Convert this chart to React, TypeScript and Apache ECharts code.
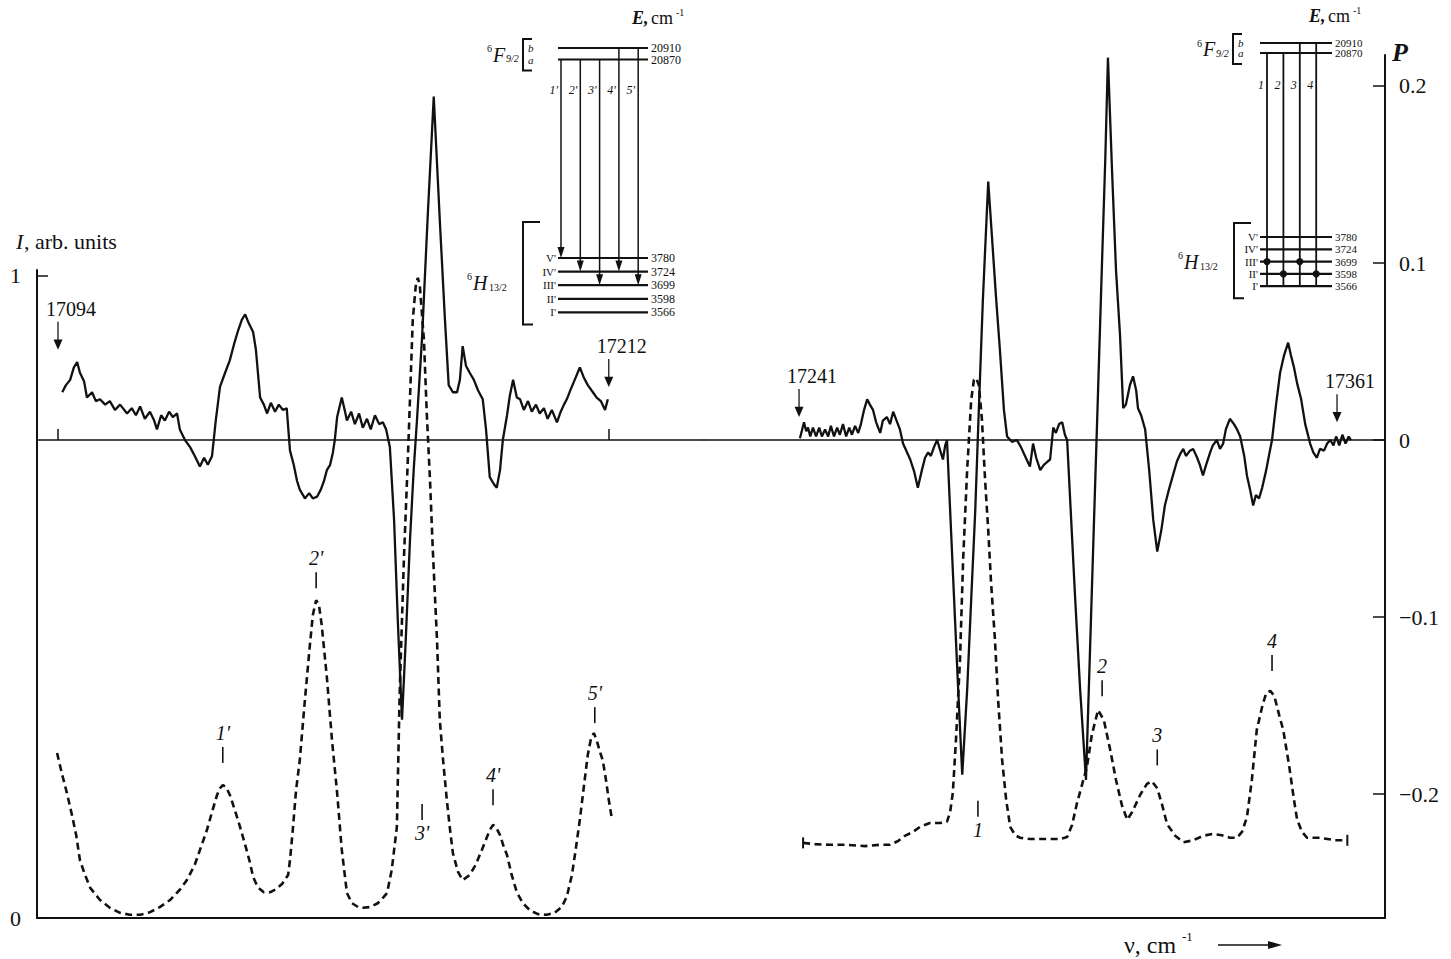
import React, { useEffect, useRef } from "react";
import * as echarts from "echarts";

const FONT = '"Liberation Serif", "Times New Roman", serif';

// wavenumber (cm^-1) vs polarization P, left window
const leftPolarization: number[][] = [
  [17094.9,0.027],[17095.7,0.031],[17096.6,0.034],[17097.4,0.041],[17098.1,0.044],[17098.7,0.038],[17099.6,0.033],[17100.2,0.024],[17101.3,0.027],[17102.1,0.022],[17103.0,0.023],[17104.1,0.020],[17105.1,0.022],[17106.2,0.017],[17107.3,0.020],[17108.8,0.015],[17109.8,0.018],[17110.7,0.014],[17111.6,0.019],[17112.6,0.012],[17113.7,0.016],[17114.6,0.011],[17115.2,0.006],[17116.1,0.014],[17116.9,0.011],[17117.8,0.016],[17118.6,0.013],[17119.5,0.015],[17120.1,0.006],[17121.2,0.000],[17122.3,-0.004],[17123.3,-0.009],[17124.4,-0.015],[17125.3,-0.010],[17126.1,-0.014],[17127.0,-0.009],[17127.8,0.011],[17128.7,0.030],[17129.8,0.038],[17130.8,0.045],[17131.7,0.054],[17132.6,0.062],[17133.4,0.068],[17134.1,0.071],[17134.7,0.067],[17135.8,0.061],[17136.4,0.051],[17137.3,0.024],[17138.1,0.020],[17138.8,0.015],[17139.6,0.021],[17140.5,0.016],[17141.3,0.020],[17142.2,0.017],[17143.0,0.018],[17143.7,-0.006],[17144.5,-0.014],[17145.2,-0.023],[17145.8,-0.028],[17146.9,-0.033],[17147.8,-0.030],[17148.6,-0.033],[17149.5,-0.032],[17150.3,-0.028],[17151.0,-0.023],[17151.6,-0.017],[17152.3,-0.014],[17152.9,-0.007],[17153.3,0.000],[17153.8,0.013],[17154.8,0.024],[17155.5,0.016],[17155.9,0.011],[17156.8,0.016],[17157.6,0.009],[17158.5,0.015],[17159.3,0.007],[17160.2,0.012],[17161.0,0.006],[17161.9,0.014],[17162.8,0.009],[17163.6,0.010],[17164.3,0.006],[17165.1,-0.004],[17166.0,-0.045],[17166.8,-0.102],[17167.7,-0.158],[17168.5,-0.113],[17169.4,-0.057],[17170.2,-0.017],[17170.9,0.011],[17172.0,0.058],[17173.2,0.126],[17174.5,0.194],[17175.8,0.124],[17176.9,0.068],[17177.7,0.031],[17178.6,0.027],[17179.5,0.027],[17180.1,0.034],[17180.7,0.053],[17181.4,0.042],[17182.2,0.038],[17183.1,0.034],[17184.0,0.028],[17185.0,0.023],[17185.7,0.006],[17186.5,-0.021],[17187.4,-0.025],[17188.0,-0.027],[17188.7,-0.017],[17189.3,0.000],[17190.2,0.014],[17190.8,0.025],[17191.5,0.034],[17192.3,0.024],[17193.0,0.023],[17193.8,0.017],[17194.7,0.022],[17195.5,0.016],[17196.4,0.020],[17197.2,0.015],[17198.1,0.018],[17198.9,0.012],[17199.8,0.017],[17200.9,0.010],[17201.7,0.016],[17202.4,0.020],[17203.0,0.023],[17203.9,0.029],[17204.7,0.034],[17205.8,0.041],[17206.7,0.035],[17207.5,0.031],[17208.6,0.027],[17209.4,0.024],[17210.3,0.022],[17211.2,0.017],[17211.8,0.023]
];

// wavenumber vs intensity I (arb. units), left window
const leftIntensity: number[][] = [
  [17093.8,0.257],[17094.9,0.223],[17095.9,0.195],[17097.0,0.160],[17097.9,0.129],[17098.7,0.090],[17099.8,0.067],[17100.9,0.047],[17103.0,0.028],[17105.1,0.016],[17107.3,0.008],[17109.4,0.005],[17111.6,0.005],[17113.7,0.009],[17115.8,0.017],[17118.0,0.028],[17120.1,0.044],[17121.6,0.059],[17123.3,0.083],[17124.8,0.114],[17125.9,0.137],[17127.0,0.165],[17128.1,0.192],[17128.7,0.202],[17129.3,0.207],[17130.0,0.204],[17130.8,0.192],[17131.9,0.168],[17133.0,0.142],[17134.1,0.114],[17135.1,0.087],[17135.8,0.064],[17136.8,0.048],[17138.1,0.040],[17139.4,0.040],[17140.7,0.045],[17142.0,0.053],[17143.3,0.067],[17143.7,0.090],[17144.3,0.137],[17145.0,0.199],[17145.8,0.246],[17146.9,0.340],[17148.0,0.428],[17148.6,0.472],[17149.3,0.495],[17149.9,0.488],[17150.5,0.456],[17151.6,0.375],[17152.7,0.277],[17153.8,0.195],[17154.8,0.106],[17155.9,0.039],[17157.0,0.023],[17158.3,0.017],[17159.3,0.016],[17160.8,0.017],[17162.5,0.023],[17163.8,0.033],[17164.5,0.039],[17165.5,0.075],[17166.6,0.142],[17167.2,0.350],[17168.1,0.558],[17169.0,0.724],[17170.0,0.931],[17170.7,0.989],[17171.1,0.997],[17171.5,0.986],[17172.4,0.900],[17173.0,0.787],[17173.7,0.682],[17174.3,0.573],[17175.2,0.433],[17175.8,0.308],[17176.5,0.246],[17177.3,0.184],[17178.0,0.137],[17178.6,0.101],[17179.7,0.072],[17180.7,0.059],[17182.2,0.067],[17183.5,0.083],[17184.8,0.106],[17185.9,0.126],[17186.5,0.137],[17187.2,0.145],[17187.8,0.142],[17188.7,0.129],[17189.5,0.111],[17190.2,0.098],[17191.2,0.067],[17192.3,0.040],[17193.6,0.023],[17195.1,0.012],[17196.8,0.006],[17198.7,0.005],[17200.4,0.008],[17201.9,0.017],[17203.0,0.033],[17204.1,0.067],[17204.9,0.106],[17205.8,0.153],[17206.7,0.207],[17207.5,0.254],[17208.2,0.280],[17208.8,0.288],[17209.4,0.277],[17210.1,0.259],[17210.7,0.246],[17211.4,0.215],[17212.0,0.184],[17212.7,0.153]
];

// wavenumber vs polarization P, right window
const rightPolarization: number[][] = [
  [17241.2,0.001],[17241.7,0.006],[17242.1,0.010],[17242.6,0.005],[17243.0,0.007],[17243.5,0.002],[17244.1,0.007],[17244.8,0.002],[17245.5,0.007],[17246.1,0.002],[17246.8,0.006],[17247.5,0.002],[17248.1,0.008],[17248.8,0.002],[17249.5,0.007],[17250.1,0.003],[17250.8,0.009],[17251.5,0.002],[17252.2,0.007],[17252.8,0.003],[17253.5,0.008],[17254.2,0.004],[17254.8,0.009],[17255.5,0.017],[17256.2,0.023],[17256.8,0.020],[17257.5,0.017],[17258.2,0.010],[17259.1,0.004],[17259.7,0.011],[17260.6,0.013],[17261.3,0.009],[17262.0,0.016],[17262.6,0.012],[17263.5,0.006],[17264.2,-0.002],[17265.1,-0.007],[17265.8,-0.011],[17266.7,-0.018],[17267.5,-0.027],[17268.4,-0.017],[17269.1,-0.010],[17269.8,-0.007],[17270.4,-0.009],[17271.1,-0.004],[17271.8,0.000],[17272.5,-0.006],[17273.1,-0.011],[17273.6,-0.003],[17274.0,0.000],[17274.9,-0.051],[17275.8,-0.102],[17276.5,-0.141],[17277.4,-0.189],[17278.5,-0.141],[17279.4,-0.090],[17280.3,-0.040],[17281.1,0.017],[17282.0,0.079],[17283.2,0.146],[17284.0,0.116],[17284.9,0.082],[17285.8,0.051],[17286.7,0.017],[17287.4,0.002],[17288.5,-0.001],[17289.6,0.000],[17290.5,-0.004],[17291.4,-0.009],[17292.5,-0.015],[17293.2,-0.002],[17293.9,-0.010],[17294.8,-0.017],[17295.6,-0.014],[17296.5,-0.012],[17297.0,-0.011],[17297.7,0.007],[17298.3,0.004],[17299.0,0.009],[17299.7,0.010],[17300.3,0.003],[17300.8,0.000],[17301.7,-0.045],[17302.6,-0.090],[17303.7,-0.141],[17305.0,-0.192],[17305.9,-0.119],[17306.8,-0.045],[17307.7,0.028],[17308.6,0.102],[17309.3,0.158],[17309.9,0.216],[17310.8,0.153],[17311.7,0.096],[17312.6,0.059],[17313.3,0.018],[17313.9,0.020],[17314.8,0.031],[17315.5,0.036],[17316.2,0.028],[17316.6,0.018],[17317.3,0.014],[17318.2,0.006],[17319.1,-0.017],[17320.0,-0.045],[17320.9,-0.063],[17321.8,-0.051],[17322.6,-0.037],[17323.5,-0.028],[17324.4,-0.020],[17325.3,-0.012],[17326.0,-0.008],[17326.7,-0.005],[17327.3,-0.009],[17328.2,-0.006],[17328.9,-0.005],[17329.8,-0.010],[17330.4,-0.014],[17331.1,-0.020],[17331.8,-0.014],[17332.7,-0.007],[17333.3,-0.003],[17334.2,0.000],[17334.9,-0.005],[17335.6,-0.002],[17336.2,0.006],[17337.1,0.012],[17338.0,0.009],[17338.7,0.006],[17339.4,0.002],[17340.3,-0.009],[17340.9,-0.020],[17341.6,-0.028],[17342.3,-0.037],[17342.9,-0.031],[17343.6,-0.033],[17344.3,-0.027],[17345.2,-0.017],[17345.8,-0.009],[17346.5,0.000],[17347.4,0.020],[17348.3,0.038],[17349.2,0.048],[17350.1,0.055],[17350.7,0.048],[17351.4,0.041],[17352.1,0.032],[17353.0,0.023],[17353.9,0.009],[17355.0,-0.002],[17355.7,-0.007],[17356.5,-0.010],[17357.2,-0.005],[17358.1,-0.006],[17358.8,-0.002],[17359.5,0.000],[17360.2,-0.003],[17360.8,0.002],[17361.5,-0.003],[17362.2,0.003],[17362.9,-0.002],[17363.6,0.002],[17364.1,0.000]
];

// wavenumber vs intensity I, right window
const rightIntensity: number[][] = [
  [17241.9,0.117],[17244.6,0.115],[17247.9,0.114],[17251.7,0.114],[17255.7,0.112],[17259.1,0.114],[17261.3,0.114],[17263.1,0.120],[17264.6,0.128],[17266.4,0.134],[17268.0,0.142],[17270.2,0.148],[17272.5,0.148],[17274.0,0.150],[17274.7,0.165],[17275.3,0.195],[17276.0,0.277],[17276.9,0.402],[17277.6,0.558],[17278.5,0.698],[17279.4,0.807],[17280.0,0.838],[17280.5,0.841],[17281.1,0.830],[17281.8,0.776],[17282.5,0.682],[17283.2,0.604],[17283.8,0.526],[17284.7,0.433],[17285.4,0.340],[17286.3,0.246],[17287.2,0.184],[17288.1,0.142],[17289.2,0.129],[17290.3,0.125],[17292.5,0.123],[17295.9,0.123],[17299.2,0.123],[17300.8,0.126],[17301.9,0.145],[17303.0,0.179],[17304.1,0.207],[17305.2,0.235],[17306.3,0.285],[17307.7,0.324],[17309.0,0.308],[17310.4,0.262],[17311.7,0.215],[17313.0,0.176],[17314.2,0.153],[17315.3,0.165],[17317.1,0.192],[17318.6,0.209],[17319.7,0.213],[17320.9,0.202],[17322.0,0.176],[17323.1,0.146],[17324.9,0.128],[17326.7,0.118],[17328.9,0.121],[17331.1,0.128],[17333.3,0.131],[17335.3,0.129],[17337.1,0.125],[17338.7,0.125],[17339.8,0.134],[17340.9,0.157],[17342.0,0.215],[17343.1,0.293],[17344.4,0.332],[17345.2,0.350],[17346.1,0.354],[17347.0,0.346],[17348.1,0.316],[17349.0,0.293],[17350.3,0.238],[17351.4,0.184],[17352.1,0.153],[17353.2,0.134],[17354.3,0.125],[17357.2,0.125],[17360.6,0.121],[17363.3,0.121]
];

// peak markers: [wavenumber, I at marker], label, label side
const leftPeakNames = ["1'", "2'", "3'", "4'", "5'"];
const leftPeakPos: number[][] = [[17129.3, 0.254], [17149.3, 0.526], [17172.0, 0.165], [17187.2, 0.188], [17209.0, 0.316]];
const leftPeakSide = ["top", "top", "bottom", "top", "top"];
const rightPeakNames = ["1", "2", "3", "4"];
const rightPeakPos: number[][] = [[17280.9, 0.170], [17308.6, 0.358], [17320.9, 0.250], [17346.5, 0.397]];
const rightPeakSide = ["bottom", "top", "top", "top"];

// scan limits marked by arrows: [wavenumber, P at arrow tip]
const leftLimits: number[][] = [[17094, 0.051], [17212, 0.030]];
const rightLimits: number[][] = [[17241, 0.013], [17361, 0.010]];

const iTicks = [0, 1];
const pTicks = [-0.2, -0.1, 0, 0.1, 0.2];
const zeroTicksLeft = [17094, 17212];

// energy-level insets
const upperLevels = [{ name: "b", energy: 20910 }, { name: "a", energy: 20870 }];
const lowerLevels = [
  { name: "V'", energy: 3780 }, { name: "IV'", energy: 3724 }, { name: "III'", energy: 3699 },
  { name: "II'", energy: 3598 }, { name: "I'", energy: 3566 },
];
const leftTransitions = [
  { name: "1'", from: 1, to: 0 }, { name: "2'", from: 1, to: 1 }, { name: "3'", from: 1, to: 2 },
  { name: "4'", from: 0, to: 1 }, { name: "5'", from: 0, to: 2 },
];
const rightTransitions = [
  { name: "1", from: 1, to: 2 }, { name: "2", from: 1, to: 3 },
  { name: "3", from: 0, to: 2 }, { name: "4", from: 0, to: 3 },
];

const BLACK = "#111";

function txt(x: number, y: number, text: string, size: number, opts: any = {}) {
  return {
    type: "text", x, y, silent: true,
    style: {
      text, fill: BLACK,
      font: `${opts.italic ? "italic " : ""}${opts.bold ? "bold " : ""}${size}px ${FONT}`,
      align: opts.align || "left", verticalAlign: opts.va || "middle",
    },
  };
}
function ln(x1: number, y1: number, x2: number, y2: number, w: number) {
  return { type: "line", silent: true, shape: { x1, y1, x2, y2 }, style: { stroke: BLACK, lineWidth: w } };
}

function buildInset(o: any) {
  const els: any[] = [];
  const uy = (i: number) => o.upperY[i];
  const ly = (i: number) => o.lowerTop + i * o.lowerStep;
  upperLevels.forEach((lv, i) => {
    els.push(ln(o.x1, uy(i), o.x2, uy(i), 2.2));
    els.push(txt(o.x2 + 3, uy(i), String(lv.energy), o.eSize));
    els.push(txt(o.fBracket + 5, uy(i), lv.name, 11, { italic: true }));
  });
  lowerLevels.forEach((lv, i) => {
    els.push(ln(o.x1, ly(i), o.x2, ly(i), 2.2));
    els.push(txt(o.x2 + 3, ly(i), String(lv.energy), o.eSize));
    els.push(txt(o.x1 - 2, ly(i), lv.name, 11, { align: "right" }));
  });
  const fTop = uy(0) - 9, fBot = uy(1) + 11;
  els.push({ type: "polyline", silent: true, shape: { points: [[o.fBracket + 9, fTop], [o.fBracket, fTop], [o.fBracket, fBot], [o.fBracket + 9, fBot]] }, style: { stroke: BLACK, fill: "none", lineWidth: 2 } });
  const hTop = o.hTop, hBot = ly(4) + 12;
  els.push({ type: "polyline", silent: true, shape: { points: [[o.hBracket + 17, hTop], [o.hBracket, hTop], [o.hBracket, hBot], [o.hBracket + 10, hBot]] }, style: { stroke: BLACK, fill: "none", lineWidth: 2 } });
  const fy = (fTop + fBot) / 2;
  els.push(txt(o.fBracket - 36, fy - 6, "6", 10));
  els.push(txt(o.fBracket - 30, fy, "F", 20, { italic: true }));
  els.push(txt(o.fBracket - 17, fy + 4, "9/2", 10, { italic: true }));
  const hy = o.hLabelY;
  els.push(txt(o.hBracket - 56, hy - 7, "6", 10));
  els.push(txt(o.hBracket - 50, hy, "H", 20, { italic: true }));
  els.push(txt(o.hBracket - 34, hy + 4, "13/2", 10));
  els.push(txt(o.eX, o.eY, "E,", 18, { italic: true, bold: true }));
  els.push(txt(o.eX + 19, o.eY, "cm", 18));
  els.push(txt(o.eX + 44, o.eY - 6, "-1", 10));
  o.transitions.forEach((t: any, k: number) => {
    const x = o.tx0 + k * o.tStep;
    const y0 = uy(t.from);
    const yEnd = ly(t.to);
    if (o.dots) {
      els.push(ln(x, y0, x, ly(4), 1.8));
      els.push({ type: "circle", silent: true, shape: { cx: x, cy: yEnd, r: 3.6 }, style: { fill: BLACK } });
    } else {
      els.push(ln(x, y0, x, yEnd - 8, 1.5));
      els.push({ type: "polygon", silent: true, shape: { points: [[x - 3.5, yEnd - 11], [x + 3.5, yEnd - 11], [x, yEnd]] }, style: { fill: BLACK } });
    }
    els.push(txt(x - 3, o.tLabelY, t.name, 12, { italic: true, align: "right" }));
  });
  return els;
}

export default function App() {
  const ref = useRef<HTMLDivElement>(null);
  useEffect(() => {
    if (!ref.current) return;
    const chart = echarts.init(ref.current, null, { renderer: "svg" });

    const xL = { min: 17089.5, max: 17232.4 };
    const xR = { min: 17219.8, max: 17371.7 };
    const iRange = { min: 0, max: 1.0093 };
    const pRange = { min: -0.27, max: 0.2175 };
    const gridBase = { outerBoundsMode: "none", containLabel: false };

    const hiddenX = (gi: number, r: any) => ({
      type: "value", gridIndex: gi, min: r.min, max: r.max,
      splitLine: { show: false }, axisLabel: { show: false }, axisTick: { show: false },
      axisLine: { show: true, onZero: false, lineStyle: { color: BLACK, width: 2 } },
    });
    const zeroX = (gi: number, r: any, ticks: number[] | null) => ({
      type: "value", gridIndex: gi, min: r.min, max: r.max,
      splitLine: { show: false }, axisLabel: { show: false },
      axisTick: ticks ? { show: true, inside: true, length: 11, customValues: ticks, lineStyle: { color: BLACK, width: 1.5 } } : { show: false },
      axisLine: { show: true, onZero: true, lineStyle: { color: BLACK, width: 1.5 } },
    });

    const peakSeries = (xi: number, yi: number, names: string[], pos: number[][], side: string[]) => ({
      type: "scatter", xAxisIndex: xi, yAxisIndex: yi, silent: true,
      symbol: "rect", symbolSize: [1.6, 16],
      itemStyle: { color: BLACK, opacity: 1 },
      data: pos.map((p, k) => ({
        name: names[k], value: p,
        label: { position: side[k], distance: side[k] === "top" ? 4 : 3 },
      })),
      label: {
        show: true, formatter: "{b}", color: BLACK, opacity: 1,
        fontFamily: FONT, fontStyle: "italic", fontSize: 20,
      },
      z: 5,
    });
    const limitSeries = (xi: number, yi: number, pts: number[][]) => ({
      type: "scatter", xAxisIndex: xi, yAxisIndex: yi, silent: true,
      symbol: "path://M4.3,0 L5.7,0 L5.7,19 L10,19 L5,30 L0,19 L4.3,19 Z",
      symbolSize: [9, 28], symbolOffset: [0, "-50%"], symbolKeepAspect: false,
      itemStyle: { color: BLACK, opacity: 1 },
      data: pts.map((p) => ({ name: String(p[0]), value: p })),
      label: {
        show: true, position: "top", distance: 3, offset: [13, 0], formatter: "{b}",
        color: BLACK, opacity: 1, fontFamily: FONT, fontSize: 20,
      },
      z: 6,
    });

    const rCaps = [rightIntensity[0], rightIntensity[rightIntensity.length - 1]];

    const graphic: any[] = [
      ...buildInset({
        x1: 558, x2: 648, upperY: [48, 59.5], lowerTop: 258, lowerStep: 13.6, eSize: 12,
        fBracket: 523, hBracket: 523, hTop: 222, hLabelY: 283,
        eX: 632, eY: 18, tx0: 561, tStep: 19.3, tLabelY: 90, transitions: leftTransitions, dots: false,
      }),
      ...buildInset({
        x1: 1260, x2: 1332, upperY: [43, 53], lowerTop: 237, lowerStep: 12.3, eSize: 11,
        fBracket: 1233, hBracket: 1234, hTop: 223, hLabelY: 262,
        eX: 1309, eY: 16, tx0: 1267, tStep: 16.4, tLabelY: 85, transitions: rightTransitions, dots: true,
      }),
      txt(16, 241, "I", 22, { italic: true }),
      txt(24, 241, ", arb. units", 22),
      txt(1392, 52, "P", 26, { italic: true, bold: true }),
      txt(1124, 945, "ν, cm", 24),
      txt(1182, 936, "-1", 13),
      ln(1218, 945, 1272, 945, 1.6),
      { type: "polygon", silent: true, shape: { points: [[1268, 941], [1282, 945], [1268, 949]] }, style: { fill: BLACK } },
    ];

    chart.setOption({
      animation: false,
      backgroundColor: "#fff",
      grid: [
        { ...gridBase, left: 37, right: 747, top: 270, bottom: 41 },
        { ...gridBase, left: 37, right: 747, top: 55, bottom: 41 },
        { ...gridBase, left: 704, right: 66, top: 270, bottom: 41 },
        { ...gridBase, left: 704, right: 66, top: 55, bottom: 41 },
      ],
      xAxis: [
        hiddenX(0, xL),
        zeroX(1, xL, zeroTicksLeft),
        hiddenX(2, xR),
        zeroX(3, xR, null),
      ],
      yAxis: [
        {
          type: "value", gridIndex: 0, position: "left", min: iRange.min, max: iRange.max,
          splitLine: { show: false },
          axisLine: { show: true, lineStyle: { color: BLACK, width: 2 } },
          axisTick: { show: true, inside: true, length: 11, customValues: iTicks, lineStyle: { color: BLACK, width: 1.5 } },
          axisLabel: { show: true, customValues: iTicks, margin: 16, color: BLACK, fontFamily: FONT, fontSize: 22, formatter: (v: number) => String(v) },
        },
        { type: "value", gridIndex: 1, min: pRange.min, max: pRange.max, show: false },
        { type: "value", gridIndex: 2, min: iRange.min, max: iRange.max, show: false },
        {
          type: "value", gridIndex: 3, position: "right", min: pRange.min, max: pRange.max,
          splitLine: { show: false },
          axisLine: { show: true, lineStyle: { color: BLACK, width: 2 } },
          axisTick: { show: true, inside: true, length: 12, customValues: pTicks, lineStyle: { color: BLACK, width: 1.5 } },
          axisLabel: {
            show: true, customValues: pTicks, margin: 14, color: BLACK, fontFamily: FONT, fontSize: 22,
            formatter: (v: number) => (Math.abs(v) < 1e-9 ? "0" : v < 0 ? "−" + Math.abs(v).toFixed(1) : v.toFixed(1)),
          },
        },
      ],
      series: [
        {
          type: "line", xAxisIndex: 0, yAxisIndex: 0, data: leftIntensity, symbol: "none", silent: true,
          lineStyle: { color: BLACK, width: 2.6, type: [7, 4.5] }, z: 3,
        },
        {
          type: "line", xAxisIndex: 2, yAxisIndex: 2, data: rightIntensity, symbol: "none", silent: true,
          lineStyle: { color: BLACK, width: 2.6, type: [7, 4.5] }, z: 3,
        },
        {
          type: "scatter", xAxisIndex: 2, yAxisIndex: 2, data: rCaps, symbol: "rect", symbolSize: [2, 11],
          itemStyle: { color: BLACK, opacity: 1 }, silent: true, z: 3,
        },
        {
          type: "line", xAxisIndex: 1, yAxisIndex: 1, data: leftPolarization, symbol: "none", silent: true,
          lineStyle: { color: BLACK, width: 2.3 }, z: 4,
        },
        {
          type: "line", xAxisIndex: 3, yAxisIndex: 3, data: rightPolarization, symbol: "none", silent: true,
          lineStyle: { color: BLACK, width: 2.3 }, z: 4,
        },
        peakSeries(0, 0, leftPeakNames, leftPeakPos, leftPeakSide),
        peakSeries(2, 2, rightPeakNames, rightPeakPos, rightPeakSide),
        limitSeries(1, 1, leftLimits),
        limitSeries(3, 3, rightLimits),
      ],
      graphic,
    });
    return () => chart.dispose();
  }, []);
  return (
    <div
      ref={ref}
      style={{ position: "fixed", left: 0, top: 0, width: 1451, height: 959, background: "#fff" }}
    />
  );
}
